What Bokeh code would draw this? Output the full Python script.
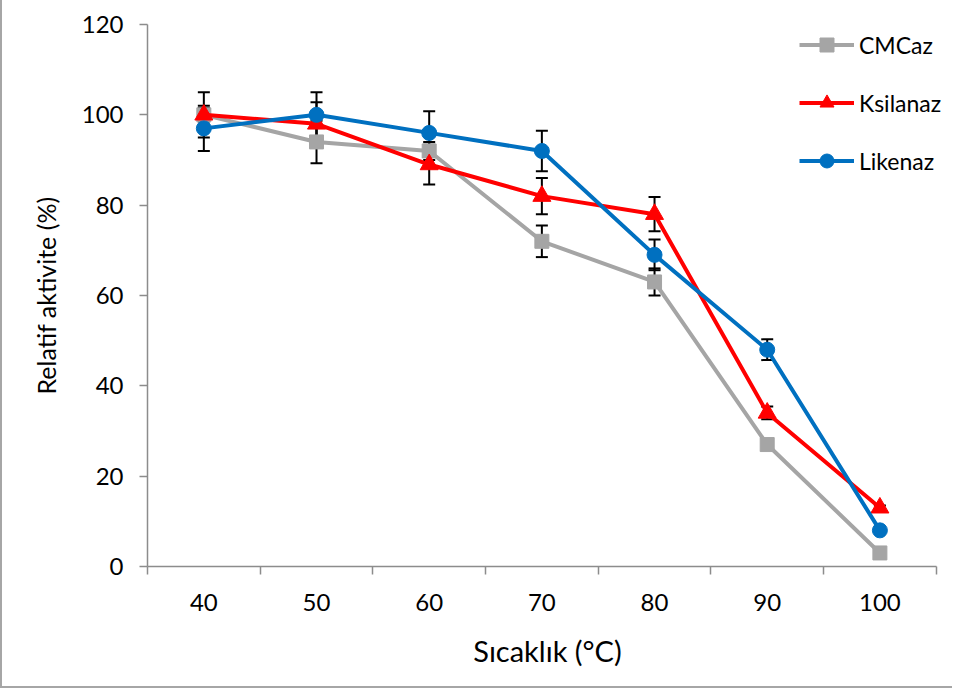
from bokeh.plotting import figure
from bokeh.models import (ColumnDataSource, FixedTicker, Whisker, TeeHead, Legend, LegendItem)
from bokeh.embed import file_html
from bokeh.resources import INLINE

categories = ["40", "50", "60", "70", "80", "90", "100"]
cmcaz = [100, 94, 92, 72, 63, 27, 3]
cmcaz_err = [5, 4.7, 2, 3.5, 3, 1, 0.5]
ksilanaz = [100, 98, 89, 82, 78, 34, 13]
ksilanaz_err = [1.5, 4.8, 4.4, 4, 3.8, 1.4, 0.5]
likenaz = [97, 100, 96, 92, 69, 48, 8]
likenaz_err = [5, 5, 4.8, 4.5, 3.4, 2.3, 0.5]
y_ticks = [0, 20, 40, 60, 80, 100, 120]

FONT = "Lato"
AXIS_COLOR = "#8c8c8c"

n = len(categories)
xs = [i + 0.5 for i in range(n)]

# a little room right of the last category so the legend text is not clipped
p = figure(width=952, height=688, output_backend="svg", toolbar_location=None,
           x_range=(0, n + 0.1), y_range=(0, 120),
           min_border_left=145, min_border_right=7, min_border_top=24, min_border_bottom=122)
p.styles = {"border-left": "2px solid #a6a6a6", "border-bottom": "2px solid #a6a6a6"}
p.outline_line_color = None
p.grid.grid_line_color = None
p.background_fill_color = "white"
p.border_fill_color = "white"

# x axis: labels at category centres, tick marks at category boundaries
p.xaxis.bounds = (0, n)
p.xaxis.ticker = FixedTicker(ticks=xs, minor_ticks=list(range(n + 1)))
p.xaxis.major_label_overrides = {x: c for x, c in zip(xs, categories)}
p.xaxis.major_tick_line_color = None
p.xaxis.major_tick_out = 0
p.xaxis.major_tick_in = 0
p.xaxis.minor_tick_line_color = AXIS_COLOR
p.xaxis.minor_tick_line_width = 1.5
p.xaxis.minor_tick_out = 8
p.xaxis.minor_tick_in = 0
p.xaxis.major_label_standoff = 19
p.xaxis.axis_label = "Sıcaklık (°C)"
p.xaxis.axis_label_standoff = 19

p.yaxis.ticker = FixedTicker(ticks=y_ticks)
p.yaxis.major_tick_out = 8
p.yaxis.major_tick_in = 0
p.yaxis.major_tick_line_color = AXIS_COLOR
p.yaxis.major_tick_line_width = 1.5
p.yaxis.minor_tick_line_color = None
p.yaxis.major_label_standoff = 16
p.yaxis.axis_label = "Relatif aktivite (%)"
p.yaxis.axis_label_standoff = 18

for ax in (p.xaxis, p.yaxis):
    ax.axis_line_color = AXIS_COLOR
    ax.axis_line_width = 1.5
    ax.major_label_text_font = FONT
    ax.major_label_text_font_size = "24px"
    ax.major_label_text_color = "black"
    ax.axis_label_text_font = FONT
    ax.axis_label_text_font_style = "normal"
    ax.axis_label_text_color = "black"
p.xaxis.axis_label_text_font_size = "29px"
p.yaxis.axis_label_text_font_size = "25px"

series = [
    ("CMCaz", cmcaz, cmcaz_err, "#a5a5a5", "square", 14),
    ("Ksilanaz", ksilanaz, ksilanaz_err, "#ff0000", "triangle", 18),
    ("Likenaz", likenaz, likenaz_err, "#0070c0", "circle", 15),
]

# error bars first (beneath the markers)
for name, vals, errs, color, marker, size in series:
    src = ColumnDataSource(dict(x=xs, upper=[v + e for v, e in zip(vals, errs)],
                                lower=[v - e for v, e in zip(vals, errs)]))
    w = Whisker(base="x", upper="upper", lower="lower", source=src,
                line_color="black", line_width=2,
                upper_head=TeeHead(size=12, line_color="black", line_width=2),
                lower_head=TeeHead(size=12, line_color="black", line_width=2))
    p.add_layout(w)

items = []
for name, vals, errs, color, marker, size in series:
    src = ColumnDataSource(dict(x=xs, y=vals))
    l = p.line("x", "y", source=src, line_color=color, line_width=4)
    s = p.scatter("x", "y", source=src, marker=marker, size=size,
                  fill_color=color, line_color=color)
    items.append(LegendItem(label=name, renderers=[l, s]))

legend = Legend(items=items, location=(652, 388))
legend.label_text_font = FONT
legend.label_text_font_size = "23px"
legend.label_text_color = "black"
legend.glyph_width = 55
legend.glyph_height = 35
legend.label_height = 35
legend.label_standoff = 5
legend.spacing = 23
legend.padding = 0
legend.margin = 0
legend.border_line_color = None
legend.background_fill_alpha = 0
p.add_layout(legend)

open("out.html", "w").write(file_html(p, INLINE))
